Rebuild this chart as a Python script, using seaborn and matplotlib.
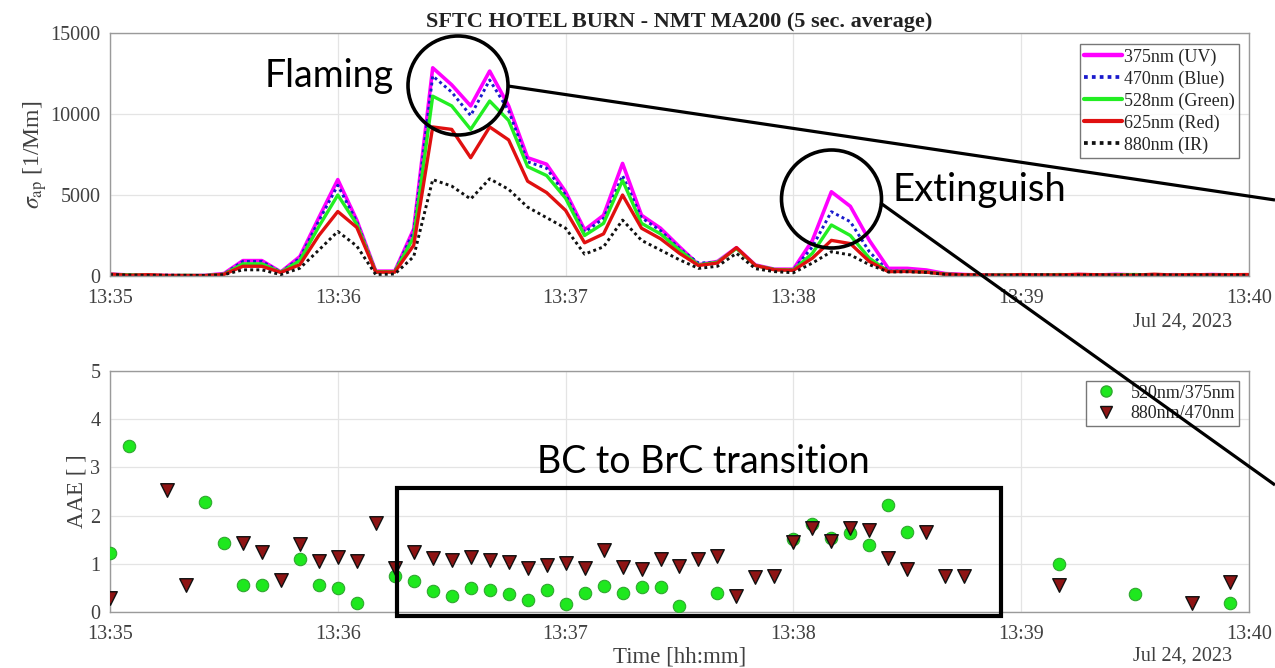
import numpy as np
import pandas as pd
import matplotlib
matplotlib.use("Agg")
import matplotlib.pyplot as plt
import matplotlib.dates as mdates
import seaborn as sns
from matplotlib.patches import Ellipse, Rectangle
from matplotlib.lines import Line2D

# ---------------------------------------------------------------- data
start_time = "2023-07-24 13:35:00"
n_points = 61  # 5-second averages over five minutes

uv_375 = [120, 60, 40, 30, 20, 40, 150, 950, 950, 250, 1200, 3600, 5950, 3450, 300, 300,
          2900, 12850, 11800, 10500, 12650, 10500, 7300, 6900, 5200, 2850, 3750, 6950, 3750,
          2950, 1800, 700, 900, 1750, 680, 420, 420, 2200, 5200, 4300, 2200, 470, 470, 370,
          150, 90, 60, 80, 50, 70, 40, 90, 60, 100, 70, 50, 80, 60, 90, 70, 60]
blue_470 = [80, 50, 30, 40, 30, 20, 120, 900, 900, 240, 1100, 3400, 5600, 3350, 280, 280,
            2750, 12350, 11350, 9900, 12100, 10200, 7050, 6650, 5000, 2700, 3550, 6200, 3600,
            2800, 1700, 800, 850, 1700, 650, 400, 380, 1800, 3970, 3350, 1500, 300, 320, 260,
            120, 70, 50, 60, 40, 80, 50, 70, 40, 80, 60, 40, 70, 50, 60, 60, 50]
green_528 = [100, 70, 50, 20, 40, 30, 110, 750, 750, 230, 950, 3050, 5000, 3200, 260, 260,
             2400, 11100, 10500, 9050, 10800, 9600, 6750, 6200, 4800, 2500, 3250, 5900, 3250,
             2600, 1600, 680, 850, 1700, 650, 400, 370, 1400, 3150, 2500, 1100, 280, 300, 250,
             120, 60, 40, 70, 60, 50, 90, 60, 50, 70, 90, 60, 50, 80, 60, 50, 70]
red_625 = [110, 40, 80, 30, 30, 20, 100, 600, 600, 220, 700, 2500, 3980, 3000, 240, 240,
           1900, 9200, 9050, 7300, 9200, 8400, 5850, 5150, 4050, 2050, 2600, 5000, 2950,
           2300, 1400, 650, 800, 1750, 650, 380, 350, 1100, 2200, 2000, 900, 270, 280, 240,
           110, 80, 60, 50, 90, 60, 70, 100, 80, 60, 50, 110, 60, 90, 70, 80, 90]
ir_880 = [90, 60, 40, 50, 40, 30, 80, 380, 380, 80, 480, 1600, 2750, 1850, 80, 120,
          1200, 5950, 5550, 4750, 6000, 5350, 4250, 3600, 2950, 1350, 1800, 3450, 2200,
          1600, 1000, 470, 600, 1400, 450, 270, 200, 800, 1500, 1300, 700, 250, 260, 220,
          100, 60, 70, 50, 60, 80, 60, 50, 70, 60, 80, 70, 60, 50, 70, 60, 50]

nan = np.nan
aae_520_375 = [1.23, 3.44, nan, nan, nan, 2.29, 1.44, 0.57, 0.56, nan, 1.09, 0.56, 0.50,
               0.19, nan, 0.75, 0.65, 0.44, 0.34, 0.50, 0.46, 0.37, 0.24, 0.46, 0.17, 0.40,
               0.53, 0.40, 0.51, 0.51, 0.13, nan, 0.40, nan, nan, nan, 1.52, 1.83, 1.53,
               1.63, 1.39, 2.23, 1.67, nan, nan, nan, nan, nan, nan, nan, 1.00, nan, nan,
               nan, 0.37, nan, nan, nan, nan, 0.18, nan]
aae_880_470 = [0.29, nan, nan, 2.53, 0.56, nan, nan, 1.44, 1.24, 0.66, 1.41, 1.06, 1.15,
               1.06, 1.84, 0.91, 1.25, 1.13, 1.08, 1.15, 1.08, 1.03, 0.91, 0.97, 1.01, 0.91,
               1.29, 0.94, 0.89, 1.09, 0.96, 1.09, 1.17, 0.33, 0.73, 0.75, 1.46, 1.74, 1.47,
               1.74, 1.70, 1.13, 0.89, 1.67, 0.75, 0.75, nan, nan, nan, nan, 0.56, nan, nan,
               nan, nan, nan, nan, 0.19, nan, 0.63, nan]

wavelength_labels = ["375nm (UV)", "470nm (Blue)", "528nm (Green)", "625nm (Red)", "880nm (IR)"]
aae_labels = ["520nm/375nm", "880nm/470nm"]

# ---------------------------------------------------------------- style
sns.set_theme(style="whitegrid")
plt.rcParams["font.family"] = ["Liberation Serif", "DejaVu Serif"]
plt.rcParams["mathtext.fontset"] = "stix"

W, H = 1275, 668
AX_W = 1249 - 110
times = pd.date_range(start_time, periods=n_points, freq="5s")
t0, t1 = times[0], times[-1]

fig = plt.figure(figsize=(W / 100, H / 100), dpi=100)
fig.patch.set_facecolor("white")

ax1 = fig.add_axes([110 / W, 1 - 276 / H, AX_W / W, (276 - 33) / H])
ax2 = fig.add_axes([110 / W, 1 - 612 / H, AX_W / W, (612 - 371) / H])

tick_color = "#404040"
spine_color = "#9a9a9a"
grid_color = "#e4e4e4"
tick_size = 14.5
label_size = 16.5

def style_axes(ax):
    ax.set_facecolor("white")
    for s in ax.spines.values():
        s.set_color(spine_color)
        s.set_linewidth(1.0)
        s.set_visible(True)
    ax.grid(True, color=grid_color, linewidth=0.9)
    ax.tick_params(axis="both", direction="in", length=5, width=0.9, color=spine_color,
                   labelsize=tick_size, labelcolor=tick_color)
    ax.tick_params(axis="x", pad=9.5)
    ax.tick_params(axis="y", pad=7)
    ax.xaxis.set_major_locator(mdates.MinuteLocator())
    ax.xaxis.set_major_formatter(mdates.DateFormatter("%H:%M"))
    ax.set_xlim(t0, t1)
    ax.set_xlabel("")

# ---------------------------------------------------------------- top: absorption
series = [uv_375, blue_470, green_528, red_625, ir_880]
colors = ["#ff00ff", "#1a1acc", "#22ee22", "#e01010", "#111111"]
styles = ["-", (0, (1, 1.1)), "-", "-", (0, (1, 1.1))]
widths = [2.6, 2.1, 2.4, 2.4, 2.1]

for vals, lab, c, ls, lw in zip(series, wavelength_labels, colors, styles, widths):
    sns.lineplot(x=times, y=vals, ax=ax1, color=c, linestyle=ls, linewidth=lw,
                 label=lab, legend=False)

style_axes(ax1)
ax1.set_ylim(0, 15000)
ax1.set_yticks([0, 5000, 10000, 15000])
ax1.set_yticklabels(["0", "5000", "10000", "15000"])
ax1.set_ylabel(r"$\sigma_{\rm ap}$ [1/Mm]", fontsize=17, color=tick_color)
ax1.yaxis.set_label_coords(-(110 - 49) / AX_W, 0.5)
ax1.set_title("SFTC HOTEL BURN - NMT MA200 (5 sec. average)", fontsize=16,
              fontweight="bold", color="#222222", pad=4)
ax1.text((1232 - 110) / AX_W, -(322 - 276) / 243, "Jul 24, 2023", transform=ax1.transAxes,
         ha="right", va="center", fontsize=tick_size, color=tick_color)

handles = [Line2D([], [], color=c, linestyle=ls, linewidth=lw + 0.6)
           for c, ls, lw in zip(colors, styles, widths)]
leg1 = ax1.legend(handles, wavelength_labels, loc="upper right",
                  bbox_to_anchor=((1239 - 110) / AX_W, 1 - (44 - 33) / 243),
                  borderaxespad=0, fontsize=13, frameon=True, fancybox=False,
                  handlelength=2.1, handletextpad=0.1, labelspacing=0.26,
                  borderpad=0.25)
leg1.get_frame().set_edgecolor("#555555")
leg1.get_frame().set_linewidth(1.0)

# ---------------------------------------------------------------- bottom: AAE
sns.scatterplot(x=times, y=aae_520_375, ax=ax2, marker="o", s=80, color="#1ee81e",
                edgecolor="#2fa82f", linewidth=0.8, label=aae_labels[0], legend=False, zorder=3)
sns.scatterplot(x=times, y=aae_880_470, ax=ax2, marker="v", s=95, color="#8e1414",
                edgecolor="#111111", linewidth=1.0, label=aae_labels[1], legend=False, zorder=4)

style_axes(ax2)
ax2.set_ylim(0, 5)
ax2.set_yticks([0, 1, 2, 3, 4, 5])
ax2.set_ylabel("AAE [ ]", fontsize=label_size, color=tick_color)
ax2.yaxis.set_label_coords(-(110 - 88) / AX_W, 0.5)
ax2.set_xlabel("Time [hh:mm]", fontsize=label_size, color=tick_color)
ax2.xaxis.set_label_coords(0.5, -(647 - 612) / 241)
ax2.text((1232 - 110) / AX_W, -(656 - 612) / 241, "Jul 24, 2023", transform=ax2.transAxes,
         ha="right", va="center", fontsize=tick_size, color=tick_color)

mh = [Line2D([], [], linestyle="none", marker="o", markersize=8, markerfacecolor="#1ee81e",
             markeredgecolor="#2fa82f"),
      Line2D([], [], linestyle="none", marker="v", markersize=9, markerfacecolor="#8e1414",
             markeredgecolor="#111111")]
leg2 = ax2.legend(mh, aae_labels, loc="upper right",
                  bbox_to_anchor=((1239 - 110) / AX_W, 1 - (381 - 371) / 241),
                  borderaxespad=0, fontsize=13, frameon=True, fancybox=False,
                  handlelength=1.8, handletextpad=0.45, labelspacing=0.2, borderpad=0.2)
leg2.get_frame().set_edgecolor("#555555")
leg2.get_frame().set_linewidth(1.0)

# ---------------------------------------------------------------- call-outs
ov = fig.add_axes([0, 0, 1, 1], zorder=10)
ov.set_xlim(0, W)
ov.set_ylim(H, 0)
ov.axis("off")
ov.patch.set_alpha(0)

note_font = dict(family=["Lato", "DejaVu Sans"], color="black")
ov.add_patch(Ellipse((458, 85.5), 100, 99, fill=False, edgecolor="black", linewidth=2.6))
ov.add_patch(Ellipse((831.5, 199), 100, 98, fill=False, edgecolor="black", linewidth=2.6))
ov.plot([508, 1275], [86, 200], color="black", linewidth=2.3, solid_capstyle="butt")
ov.plot([880.5, 1275], [203, 485], color="black", linewidth=2.3, solid_capstyle="butt")
ov.add_patch(Rectangle((397, 488), 604, 128, fill=False, edgecolor="black", linewidth=3.0))

ov.text(265, 87, "Flaming", ha="left", va="baseline", fontsize=27, **note_font)
ov.text(893, 201.5, "Extinguish", ha="left", va="baseline", fontsize=27.5, **note_font)
ov.text(537, 473, "BC to BrC transition", ha="left", va="baseline", fontsize=27, **note_font)

fig.savefig("out.png", dpi=100, facecolor="white")
